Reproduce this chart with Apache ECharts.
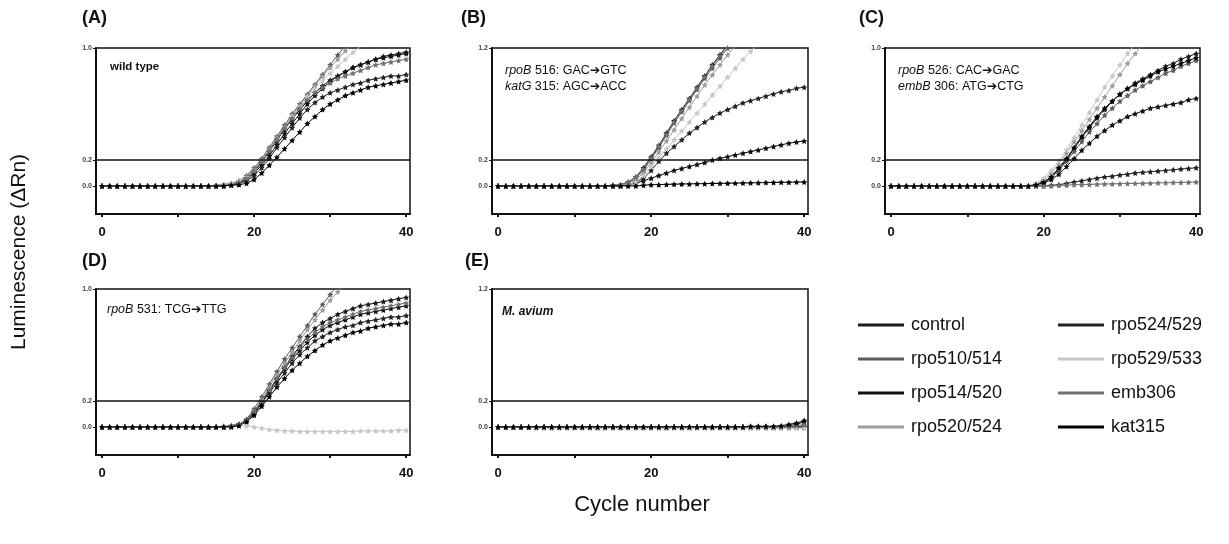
<!DOCTYPE html>
<html>
<head>
<meta charset="utf-8">
<script src="https://cdn.jsdelivr.net/npm/echarts@6/dist/echarts.min.js"></script>
<style>
  html, body { margin: 0; background: #fff; }
  #chart { width: 1229px; height: 544px; }
</style>
</head>
<body>
<div id="chart"></div>
<script>
// cycle numbers on the x axis
const cycles = [0,1,2,3,4,5,6,7,8,9,10,11,12,13,14,15,16,17,18,19,20,21,22,23,24,25,26,27,28,29,30,31,32,33,34,35,36,37,38,39,40]
const seriesNames = ['control', 'rpo510/514', 'rpo514/520', 'rpo520/524', 'rpo524/529', 'rpo529/533', 'emb306', 'kat315']
const seriesColors = ['#1a1a1a', '#5c5c5c', '#111111', '#9c9c9c', '#222222', '#c6c6c6', '#707070', '#000000']
const panelLabels = ['(A)', '(B)', '(C)', '(D)', '(E)']
const topValues = [1.0, 1.2, 1.0, 1.0, 1.2]
const topLabels = ['1.0', '1.2', '1.0', '1.0', '1.2']
const threshold = 0.2
const xTickValues = [0, 10, 20, 30, 40]
const xLabelValues = [0, 20, 40]

// luminescence (ΔRn) per cycle, rows in the order of seriesNames
const panelA = [
  [0,0,0,0,0,0,0,0,0,0,0,0,0,0,0, 0,0.01,0.02,0.03,0.06,0.11,0.18,0.26,0.34,0.42,0.49,0.56,0.62,0.68,0.73,0.77,0.8,0.83,0.86,0.88,0.9,0.92,0.93,0.94,0.95,0.96],
  [0,0,0,0,0,0,0,0,0,0,0,0,0,0,0, 0.005,0.01,0.02,0.04,0.08,0.14,0.21,0.29,0.37,0.45,0.53,0.6,0.67,0.74,0.81,0.88,0.95,1.02,1.09,1.15,1.2,1.25,1.3,1.34,1.38,1.42],
  [0,0,0,0,0,0,0,0,0,0,0,0,0,0,0, 0,0.005,0.01,0.02,0.05,0.1,0.16,0.23,0.31,0.39,0.46,0.53,0.6,0.66,0.71,0.76,0.8,0.83,0.86,0.88,0.9,0.92,0.94,0.95,0.96,0.97],
  [0,0,0,0,0,0,0,0,0,0,0,0,0,0,0, 0,0.01,0.02,0.03,0.07,0.13,0.2,0.28,0.36,0.44,0.52,0.59,0.66,0.73,0.8,0.86,0.92,0.98,1.04,1.1,1.15,1.2,1.25,1.3,1.34,1.38],
  [0,0,0,0,0,0,0,0,0,0,0,0,0,0,0, 0,0,0.01,0.02,0.04,0.08,0.14,0.21,0.29,0.36,0.43,0.5,0.56,0.61,0.65,0.68,0.7,0.72,0.74,0.75,0.77,0.78,0.79,0.8,0.8,0.81],
  [0,0,0,0,0,0,0,0,0,0,0,0,0,0,0, 0,0.01,0.02,0.04,0.07,0.12,0.19,0.27,0.35,0.43,0.51,0.58,0.65,0.71,0.77,0.82,0.87,0.92,0.97,1.01,1.05,1.09,1.12,1.15,1.18,1.2],
  [0,0,0,0,0,0,0,0,0,0,0,0,0,0,0, 0,0.005,0.01,0.03,0.06,0.12,0.19,0.27,0.35,0.43,0.5,0.57,0.63,0.68,0.72,0.75,0.78,0.8,0.82,0.84,0.86,0.88,0.89,0.9,0.91,0.92],
  [0,0,0,0,0,0,0,0,0,0,0,0,0,0,0, 0,0,0.005,0.01,0.02,0.05,0.1,0.16,0.22,0.28,0.34,0.4,0.46,0.51,0.56,0.6,0.63,0.66,0.68,0.7,0.72,0.73,0.74,0.75,0.76,0.77]
]
const panelB = [
  [0,0,0,0,0,0,0,0,0,0,0,0,0,0,0, 0.005,0.01,0.03,0.07,0.14,0.23,0.33,0.44,0.55,0.65,0.75,0.85,0.95,1.05,1.14,1.23,1.3,1.37,1.43,1.48,1.53,1.57,1.6,1.63,1.66,1.68],
  [0,0,0,0,0,0,0,0,0,0,0,0,0,0,0, 0.005,0.01,0.02,0.06,0.12,0.21,0.31,0.42,0.53,0.63,0.73,0.83,0.93,1.02,1.11,1.2,1.28,1.35,1.41,1.46,1.51,1.55,1.58,1.61,1.64,1.66],
  [0,0,0,0,0,0,0,0,0,0,0,0,0,0,0, 0,0.005,0.01,0.02,0.04,0.06,0.08,0.1,0.12,0.135,0.15,0.165,0.18,0.2,0.215,0.23,0.245,0.26,0.275,0.29,0.305,0.32,0.335,0.35,0.36,0.37],
  [0,0,0,0,0,0,0,0,0,0,0,0,0,0,0, 0,0.005,0.02,0.05,0.1,0.18,0.27,0.37,0.47,0.57,0.67,0.77,0.87,0.96,1.05,1.14,1.22,1.3,1.37,1.43,1.48,1.53,1.57,1.6,1.63,1.66],
  [0,0,0,0,0,0,0,0,0,0,0,0,0,0,0, 0,0,0.01,0.03,0.06,0.12,0.19,0.26,0.32,0.38,0.44,0.49,0.54,0.58,0.62,0.65,0.68,0.71,0.73,0.75,0.77,0.79,0.81,0.82,0.84,0.85],
  [0,0,0,0,0,0,0,0,0,0,0,0,0,0,0, 0,0.005,0.01,0.03,0.08,0.15,0.22,0.3,0.38,0.46,0.54,0.62,0.7,0.78,0.86,0.94,1.02,1.1,1.17,1.24,1.3,1.35,1.4,1.44,1.48,1.52],
  [0,0,0,0,0,0,0,0,0,0,0,0,0,0,0, 0.005,0.01,0.03,0.07,0.13,0.22,0.32,0.43,0.54,0.64,0.74,0.84,0.94,1.04,1.13,1.22,1.3,1.37,1.43,1.48,1.53,1.57,1.6,1.63,1.66,1.68],
  [0,0,0,0,0,0,0,0,0,0,0,0,0,0,0, 0,0,0,0,0.005,0.01,0.01,0.012,0.014,0.015,0.016,0.017,0.018,0.019,0.02,0.021,0.022,0.023,0.024,0.025,0.026,0.027,0.028,0.029,0.03,0.03]
]
const panelC = [
  [0,0,0,0,0,0,0,0,0,0,0,0,0,0,0, 0,0,0,0,0.01,0.03,0.07,0.13,0.2,0.28,0.36,0.43,0.5,0.56,0.62,0.67,0.71,0.75,0.78,0.81,0.84,0.87,0.89,0.92,0.94,0.96],
  [0,0,0,0,0,0,0,0,0,0,0,0,0,0,0, 0,0,0,0,0.01,0.03,0.06,0.12,0.19,0.26,0.33,0.4,0.46,0.52,0.57,0.62,0.66,0.7,0.73,0.76,0.79,0.82,0.84,0.87,0.89,0.91],
  [0,0,0,0,0,0,0,0,0,0,0,0,0,0,0, 0,0,0,0,0.01,0.02,0.05,0.09,0.15,0.21,0.27,0.32,0.37,0.41,0.45,0.48,0.51,0.53,0.55,0.57,0.58,0.59,0.6,0.61,0.63,0.64],
  [0,0,0,0,0,0,0,0,0,0,0,0,0,0,0, 0,0,0,0,0.02,0.05,0.1,0.17,0.25,0.33,0.41,0.49,0.57,0.65,0.73,0.81,0.89,0.96,1.03,1.1,1.16,1.22,1.27,1.32,1.36,1.4],
  [0,0,0,0,0,0,0,0,0,0,0,0,0,0,0, 0,0,0,0,0,0,0.005,0.01,0.02,0.03,0.04,0.05,0.06,0.07,0.075,0.085,0.09,0.1,0.105,0.11,0.115,0.12,0.125,0.13,0.135,0.14],
  [0,0,0,0,0,0,0,0,0,0,0,0,0,0,0, 0,0,0,0,0.02,0.06,0.12,0.19,0.27,0.36,0.45,0.54,0.63,0.72,0.8,0.88,0.96,1.03,1.1,1.16,1.22,1.27,1.32,1.36,1.4,1.44],
  [0,0,0,0,0,0,0,0,0,0,0,0,0,0,0, 0,0,0,0,0,0,0,0.005,0.005,0.01,0.01,0.012,0.014,0.015,0.016,0.018,0.019,0.02,0.021,0.022,0.024,0.025,0.026,0.027,0.028,0.03],
  [0,0,0,0,0,0,0,0,0,0,0,0,0,0,0, 0,0,0,0,0.01,0.03,0.07,0.14,0.21,0.29,0.37,0.44,0.51,0.57,0.62,0.67,0.71,0.74,0.77,0.8,0.83,0.85,0.87,0.89,0.91,0.93]
]
const panelD = [
  [0,0,0,0,0,0,0,0,0,0,0,0,0,0,0, 0,0,0.01,0.02,0.05,0.12,0.2,0.28,0.36,0.44,0.52,0.59,0.66,0.72,0.76,0.79,0.82,0.84,0.86,0.88,0.89,0.9,0.91,0.92,0.93,0.94],
  [0,0,0,0,0,0,0,0,0,0,0,0,0,0,0, 0,0.005,0.01,0.02,0.06,0.14,0.23,0.32,0.41,0.5,0.58,0.66,0.74,0.82,0.89,0.96,1.03,1.09,1.15,1.2,1.25,1.29,1.33,1.36,1.39,1.42],
  [0,0,0,0,0,0,0,0,0,0,0,0,0,0,0, 0,0,0.005,0.02,0.05,0.11,0.19,0.27,0.35,0.43,0.5,0.56,0.62,0.67,0.71,0.74,0.76,0.78,0.8,0.82,0.83,0.84,0.85,0.86,0.87,0.88],
  [0,0,0,0,0,0,0,0,0,0,0,0,0,0,0, 0,0.005,0.01,0.02,0.05,0.12,0.21,0.3,0.39,0.47,0.55,0.63,0.71,0.78,0.85,0.92,0.98,1.04,1.1,1.15,1.2,1.24,1.28,1.32,1.35,1.38],
  [0,0,0,0,0,0,0,0,0,0,0,0,0,0,0, 0,0,0.005,0.02,0.05,0.1,0.18,0.26,0.33,0.4,0.47,0.53,0.58,0.63,0.66,0.69,0.71,0.73,0.74,0.76,0.77,0.78,0.79,0.8,0.8,0.81],
  [0,0,0,0,0,0,0,0,0,0,0,0,0,0,0, 0,0,0,0.01,0.01,0,-0.01,-0.02,-0.025,-0.03,-0.03,-0.035,-0.035,-0.035,-0.035,-0.035,-0.035,-0.035,-0.035,-0.03,-0.03,-0.03,-0.03,-0.03,-0.025,-0.025],
  [0,0,0,0,0,0,0,0,0,0,0,0,0,0,0, 0,0,0.01,0.02,0.05,0.12,0.2,0.28,0.36,0.44,0.51,0.58,0.64,0.69,0.73,0.76,0.78,0.8,0.82,0.84,0.85,0.86,0.87,0.88,0.89,0.9],
  [0,0,0,0,0,0,0,0,0,0,0,0,0,0,0, 0,0,0,0.01,0.04,0.09,0.16,0.23,0.3,0.36,0.42,0.47,0.52,0.56,0.6,0.63,0.65,0.67,0.69,0.7,0.72,0.73,0.74,0.75,0.75,0.76]
]
const panelE = [
  [0,0,0,0,0,0,0,0,0,0,0,0,0,0,0,0,0,0,0,0,0,0,0,0,0,0,0,0,0,0,0,0,0,0,0,0,0,0,0.01,0.02,0.04],
  [0,0,0,0,0,0,0,0,0,0,0,0,0,0,0,0,0,0,0,0,0,0,0,0,0,0,0,0,0,0,0,0,0,0,0,0,0,0,0,0,0.01],
  [0,0,0,0,0,0,0,0,0,0,0,0,0,0,0,0,0,0,0,0,0,0,0,0,0,0,0,0,0,0,0,0,0,0,0,0,0,0,0,0,0],
  [0,0,0,0,0,0,0,0,0,0,0,-0.005,-0.005,-0.005,-0.005,-0.005,-0.005,-0.005,-0.005,-0.005,-0.005,-0.005,-0.005,-0.005,-0.005,-0.005,-0.005,-0.005,-0.005,-0.005,-0.005,-0.005,-0.005,-0.005,-0.005,-0.005,-0.005,-0.005,-0.005,0,0],
  [0,0,0,0,0,0,0,0,0,0,0,0,0,0,0,0,0,0,0,0,0,0,0,0,0,0,0,0,0,0,0,0,0,0,0,0,0,0,0,0,0],
  [0,0,0,0,0,-0.01,-0.01,-0.01,-0.01,-0.01,-0.01,-0.01,-0.01,-0.01,-0.01,-0.01,-0.01,-0.01,-0.01,-0.01,-0.01,-0.01,-0.01,-0.01,-0.01,-0.01,-0.01,-0.01,-0.01,-0.01,-0.01,-0.01,-0.01,-0.01,-0.01,-0.01,-0.01,-0.01,-0.01,-0.01,-0.01],
  [0,0,0,0,0,0,0,0,0,0,0,0,0,0,0,0,0,0,0,0,0,0,0,0,0,0,0,0,0,0,0,0,0,0,0,0,0,0,0,0.01,0.02],
  [0,0,0,0,0,0,0,0,0,0,0,0,0,0,0,0,0,0,0,0,0,0,0,0,0,0,0,0,0,0,0,0,0,0.005,0.005,0.005,0.005,0.01,0.02,0.03,0.05]
]
const panels = [panelA, panelB, panelC, panelD, panelE]

// broken y axis: 0..0.2 gets 26 units, 0.2..top gets 112 units
const LOW = 26
const HIGH = 112
function toAxis(v, top) {
  return v <= threshold ? v / threshold * LOW : LOW + (v - threshold) / (top - threshold) * HIGH
}

const FONT = '"Liberation Sans", Arial, "DejaVu Sans", sans-serif'
const star = 'path://M0,-10L2.9,-4L9.5,-3.1L4.7,1.5L5.9,8.1L0,5L-5.9,8.1L-4.7,1.5L-9.5,-3.1L-2.9,-4Z'

const grids = [
  { left: 96, top: 48, width: 314, height: 166 },
  { left: 492, top: 48, width: 316, height: 166 },
  { left: 885, top: 48, width: 315, height: 166 },
  { left: 96, top: 289, width: 314, height: 166 },
  { left: 492, top: 289, width: 316, height: 166 }
]

const xAxes = grids.map((g, p) => ({
  gridIndex: p,
  type: 'value',
  min: -0.8,
  max: 40.5,
  axisLine: { onZero: false, lineStyle: { color: '#111', width: 2 } },
  axisTick: { customValues: xTickValues, length: 3, lineStyle: { color: '#111', width: 2 } },
  axisLabel: { customValues: xLabelValues, fontSize: 13, fontWeight: 'bold', color: '#111', margin: 12, fontFamily: FONT },
  splitLine: { show: false }
}))

const yAxes = grids.map((g, p) => ({
  gridIndex: p,
  type: 'value',
  min: -28,
  max: LOW + HIGH,
  axisLine: { show: true, onZero: false, lineStyle: { color: '#111', width: 2 } },
  axisTick: { show: true, customValues: [0, LOW, LOW + HIGH], length: 3, lineStyle: { color: '#111' } },
  axisLabel: {
    customValues: [0, LOW, LOW + HIGH],
    formatter: v => (v === 0 ? '0.0' : v === LOW ? '0.2' : topLabels[p]),
    fontSize: 7,
    fontWeight: 'bold',
    color: '#444',
    margin: 4,
    fontFamily: FONT
  },
  splitLine: { show: false }
}))

const series = []
panels.forEach((rows, p) => {
  rows.forEach((row, i) => {
    const s = {
      name: seriesNames[i],
      type: 'line',
      xAxisIndex: p,
      yAxisIndex: p,
      data: cycles.map((c, k) => [c, toAxis(row[k], topValues[p])]),
      symbol: star,
      symbolSize: 6,
      clip: true,
      lineStyle: { width: 1, color: seriesColors[i] },
      itemStyle: { color: seriesColors[i] },
      z: 3
    }
    if (i === 0) {
      s.markLine = {
        silent: true,
        symbol: 'none',
        label: { show: false },
        lineStyle: { color: '#111', width: 1.5, type: 'solid' },
        data: [{ yAxis: toAxis(threshold, topValues[p]) }]
      }
    }
    series.push(s)
  })
})

const titles = [
  { text: panelLabels[0], left: 82, top: 9 },
  { text: panelLabels[1], left: 461, top: 9 },
  { text: panelLabels[2], left: 859, top: 9 },
  { text: panelLabels[3], left: 82, top: 252 },
  { text: panelLabels[4], left: 465, top: 252 }
].map(t => ({ ...t, padding: 0, textStyle: { fontSize: 18, fontWeight: 'bold', color: '#111', fontFamily: FONT } }))

const noteStyle = {
  fontSize: 12.5,
  fontWeight: 'normal',
  color: '#111',
  fontFamily: FONT,
  lineHeight: 16,
  rich: { i: { fontStyle: 'italic', fontWeight: 'normal', fontSize: 12.5, fontFamily: FONT, color: '#111', lineHeight: 16 } }
}
const notes = [
  { text: 'wild type', left: 110, top: 59, textStyle: { ...noteStyle, fontWeight: 'bold', fontSize: 11.5 } },
  { text: '{i|rpoB} 516: GAC➔GTC\n{i|katG} 315: AGC➔ACC', left: 505, top: 63, textStyle: noteStyle },
  { text: '{i|rpoB} 526: CAC➔GAC\n{i|embB} 306: ATG➔CTG', left: 898, top: 63, textStyle: noteStyle },
  { text: '{i|rpoB} 531: TCG➔TTG', left: 107, top: 302, textStyle: noteStyle },
  { text: 'M. avium', left: 502, top: 304, textStyle: { ...noteStyle, fontStyle: 'italic', fontWeight: 'bold', fontSize: 12 } }
].map(t => ({ ...t, padding: 0 }))

const legendBase = {
  orient: 'vertical',
  icon: 'rect',
  itemWidth: 46,
  itemHeight: 3,
  itemGap: 16,
  selectedMode: false,
  textStyle: { fontSize: 18, color: '#111', fontFamily: FONT, lineHeight: 18, padding: [0, 0, 0, 2] }
}

const option = {
  animation: false,
  backgroundColor: '#fff',
  title: [...titles, ...notes],
  grid: grids.map(g => ({ ...g, show: true, borderColor: '#111', borderWidth: 1.5, backgroundColor: 'transparent' })),
  xAxis: xAxes,
  yAxis: yAxes,
  legend: [
    { ...legendBase, data: seriesNames.slice(0, 4), left: 853, top: 311 },
    { ...legendBase, data: seriesNames.slice(4), left: 1053, top: 311 }
  ],
  graphic: [
    {
      type: 'text',
      x: 19,
      y: 252,
      rotation: Math.PI / 2,
      style: { text: 'Luminescence (ΔRn)', font: '21px ' + FONT, fill: '#111', textAlign: 'center', textVerticalAlign: 'middle' }
    },
    {
      type: 'text',
      x: 642,
      y: 505,
      style: { text: 'Cycle number', font: '22px ' + FONT, fill: '#111', textAlign: 'center', textVerticalAlign: 'middle' }
    }
  ],
  series: series
}

const chart = echarts.init(document.getElementById('chart'))
chart.setOption(option)
</script>
</body>
</html>
